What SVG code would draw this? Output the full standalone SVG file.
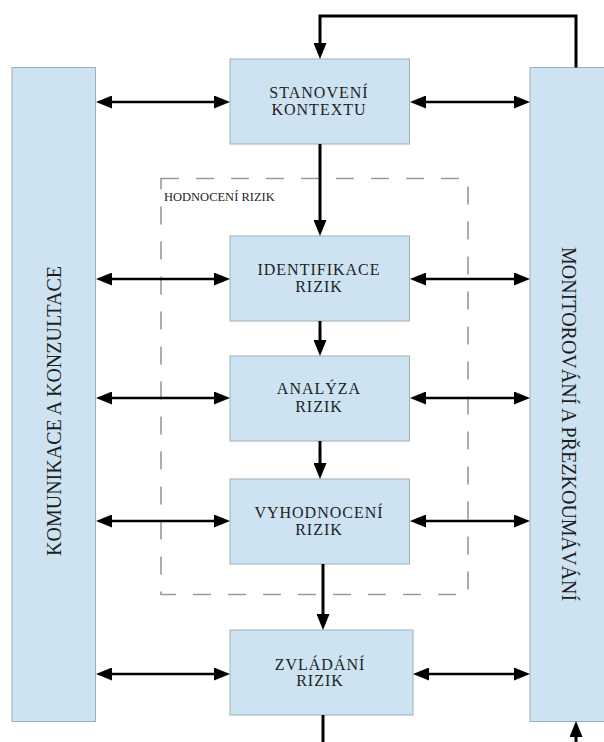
<svg xmlns="http://www.w3.org/2000/svg" width="604" height="742" viewBox="0 0 604 742">
  <defs>
    <style>
      .bar { fill: #cde3f1; stroke: #9fb0bb; stroke-width: 1; }
      .box { fill: #cde3f1; stroke: #9fb0bb; stroke-width: 1; }
      .lbl { font-size: 16px; text-anchor: middle; letter-spacing: 1px; fill: #1e1e1e; }
      .vlbl { font-size: 20px; text-anchor: middle; fill: #1e1e1e; }
      .grp { font-size: 12.5px; fill: #1e1e1e; }
      .flow { fill: none; stroke: #000; stroke-width: 3; }
      .link { fill: none; stroke: #000; stroke-width: 2.5; }
      .frame { fill: none; stroke: #9a9a9a; stroke-width: 1.6; stroke-dasharray: 18 17; }
    </style>
    <marker id="head" markerUnits="userSpaceOnUse" markerWidth="16" markerHeight="13" refX="8" refY="6.5" orient="auto-start-reverse">
      <path d="M0,0 L16,6.5 L0,13 z" fill="#000"/>
    </marker>
  </defs>

  <g font-family="Liberation Serif, serif">
  <!-- side bars -->
  <g id="komunikace">
    <rect class="bar" x="12" y="67.5" width="83.5" height="654"/>
    <text class="vlbl" transform="translate(61,411) rotate(-90)">KOMUNIKACE A KONZULTACE</text>
  </g>
  <g id="monitorovani">
    <rect class="bar" x="530" y="67.5" width="80" height="654"/>
    <text class="vlbl" transform="translate(562,424) rotate(90)">MONITOROVÁNÍ A PŘEZKOUMÁVÁNÍ</text>
  </g>

  <!-- risk assessment frame -->
  <g id="hodnoceni">
    <rect class="frame" x="161" y="178.5" width="307" height="416"/>
    <text class="grp" x="164" y="201">HODNOCENÍ RIZIK</text>
  </g>

  <!-- process steps -->
  <g id="stanoveni">
    <rect class="box" x="230" y="59" width="179.5" height="85"/>
    <text class="lbl" x="319" y="98">STANOVENÍ</text>
    <text class="lbl" x="319" y="115">KONTEXTU</text>
  </g>
  <g id="identifikace">
    <rect class="box" x="230" y="236" width="179.5" height="85"/>
    <text class="lbl" x="319" y="275">IDENTIFIKACE</text>
    <text class="lbl" x="319" y="292">RIZIK</text>
  </g>
  <g id="analyza">
    <rect class="box" x="230" y="356" width="179.5" height="85"/>
    <text class="lbl" x="319" y="394">ANALÝZA</text>
    <text class="lbl" x="319" y="411.5">RIZIK</text>
  </g>
  <g id="vyhodnoceni">
    <rect class="box" x="230" y="479" width="179.5" height="85"/>
    <text class="lbl" x="319" y="518">VYHODNOCENÍ</text>
    <text class="lbl" x="319" y="535">RIZIK</text>
  </g>
  <g id="zvladani">
    <rect class="box" x="230" y="630" width="183" height="85"/>
    <text class="lbl" x="320" y="670">ZVLÁDÁNÍ</text>
    <text class="lbl" x="320" y="686">RIZIK</text>
  </g>
  </g>

  <!-- connectors -->
  <g id="connectors">
    <!-- feedback loop from monitoring back to context -->
    <polyline class="flow" points="576,67.5 576,16 320,16 320,51" marker-end="url(#head)"/>
    <!-- main flow -->
    <line class="flow" x1="320" y1="144" x2="320" y2="228" marker-end="url(#head)"/>
    <line class="flow" x1="320" y1="321" x2="320" y2="348" marker-end="url(#head)"/>
    <line class="flow" x1="320" y1="441" x2="320" y2="471" marker-end="url(#head)"/>
    <line class="flow" x1="323" y1="564" x2="323" y2="622" marker-end="url(#head)"/>
    <line class="flow" x1="323" y1="715" x2="323" y2="742"/>
    <line class="flow" x1="576" y1="742" x2="576" y2="729" marker-end="url(#head)"/>
    <!-- communication links -->
    <line class="link" x1="104" y1="102" x2="222" y2="102" marker-start="url(#head)" marker-end="url(#head)"/>
    <line class="link" x1="104" y1="279" x2="222" y2="279" marker-start="url(#head)" marker-end="url(#head)"/>
    <line class="link" x1="104" y1="398" x2="222" y2="398" marker-start="url(#head)" marker-end="url(#head)"/>
    <line class="link" x1="104" y1="521" x2="222" y2="521" marker-start="url(#head)" marker-end="url(#head)"/>
    <line class="link" x1="104" y1="674" x2="222" y2="674" marker-start="url(#head)" marker-end="url(#head)"/>
    <!-- monitoring links -->
    <line class="link" x1="418" y1="102" x2="522" y2="102" marker-start="url(#head)" marker-end="url(#head)"/>
    <line class="link" x1="418" y1="279" x2="522" y2="279" marker-start="url(#head)" marker-end="url(#head)"/>
    <line class="link" x1="418" y1="398" x2="522" y2="398" marker-start="url(#head)" marker-end="url(#head)"/>
    <line class="link" x1="418" y1="521" x2="522" y2="521" marker-start="url(#head)" marker-end="url(#head)"/>
    <line class="link" x1="421" y1="674" x2="522" y2="674" marker-start="url(#head)" marker-end="url(#head)"/>
  </g>
</svg>
